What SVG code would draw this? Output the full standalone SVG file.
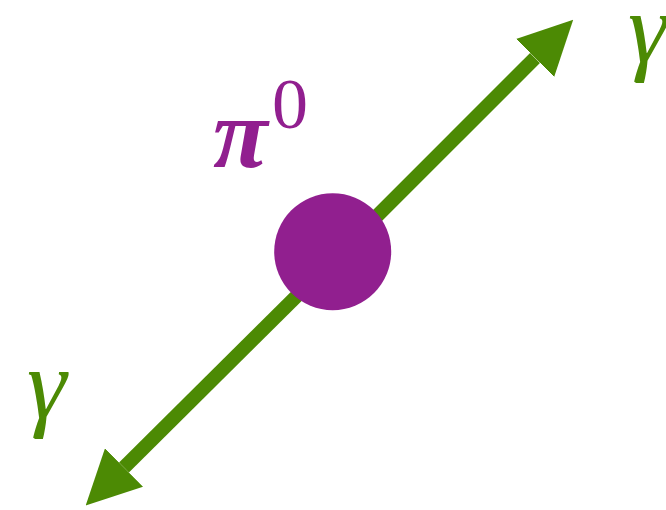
<svg xmlns="http://www.w3.org/2000/svg" width="666" height="510" viewBox="0 0 666 510">
  <style>
    .g { fill: #4C8A04; }
    .lbl { font-family: "Liberation Serif", "Times New Roman", serif; font-style: italic; }
    .up { font-family: "Liberation Serif", "Times New Roman", serif; }
  </style>
  <defs>
    <marker id="ah" viewBox="0 0 54 54" refX="0" refY="27" markerWidth="54" markerHeight="54" markerUnits="userSpaceOnUse" orient="auto">
      <path d="M0,0 L54,27 L0,54 Z" class="g"/>
    </marker>
  </defs>
  <g id="connectors">
    <line x1="331" y1="262" x2="535" y2="58" stroke="#4C8A04" stroke-width="14" marker-end="url(#ah)"/>
    <line x1="331" y1="262" x2="124" y2="467.5" stroke="#4C8A04" stroke-width="14" marker-end="url(#ah)"/>
  </g>
  <g id="pi0">
    <circle cx="332.7" cy="251.7" r="58.5" fill="#911F8F"/>
    <text x="213" y="167" class="lbl" font-size="100" font-weight="bold" fill="#911F8F">π</text>
    <text x="272" y="128" class="up" font-size="72" fill="#911F8F">0</text>
  </g>
  <g id="gamma1">
    <text x="628" y="62" class="lbl" font-size="100" fill="#4C8A04">γ</text>
  </g>
  <g id="gamma2">
    <text x="27" y="418" class="lbl" font-size="100" fill="#4C8A04">γ</text>
  </g>
</svg>
